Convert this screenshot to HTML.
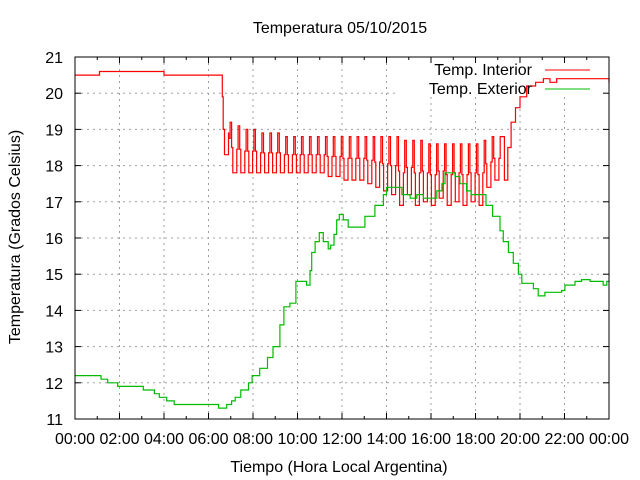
<!DOCTYPE html>
<html><head><meta charset="utf-8"><style>
html,body{margin:0;padding:0;background:#fff;}
svg{display:block;font-family:"Liberation Sans",sans-serif;}
</style></head><body>
<svg id="chart" width="640" height="480" viewBox="0 0 640 480" xmlns="http://www.w3.org/2000/svg">
<g id="grid"></g>
<rect x="396" y="58" width="212" height="39" fill="#fff"/>
<g id="series"></g>
<rect x="75" y="57" width="534" height="362" fill="none" stroke="#000" stroke-width="1"/>
<g id="ticks"></g>
<text x="340" y="33" text-anchor="middle" font-size="16">Temperatura 05/10/2015</text>
<text x="339" y="472" text-anchor="middle" font-size="16">Tiempo (Hora Local Argentina)</text>
<text x="0" y="0" transform="translate(20,237) rotate(-90)" text-anchor="middle" font-size="16">Temperatura (Grados Celsius)</text>
<g>
<text x="532" y="75" text-anchor="end" font-size="16">Temp. Interior</text>
<line x1="545" y1="70" x2="590" y2="70" stroke="#f00" stroke-width="1"/>
<text x="532" y="94" text-anchor="end" font-size="16">Temp. Exterior</text>
<line x1="545" y1="89" x2="590" y2="89" stroke="#0b0" stroke-width="1"/>
</g>
</svg>
<script>
const xTickLabels=["00:00","02:00","04:00","06:00","08:00","10:00","12:00","14:00","16:00","18:00","20:00","22:00","00:00"];
const xTickHours=[0,2,4,6,8,10,12,14,16,18,20,22,24];
const yTickValues=[11,12,13,14,15,16,17,18,19,20,21];
const intHours=[0,1.1,1.1,4.0,4.0,6.6,6.62,6.66,6.72,6.8,6.9];
const intVals=[20.5,20.5,20.6,20.6,20.5,20.5,19.9,19.0,18.3,18.3,18.9];
const peakTimes=[6.97,7.33,7.69,8.04,8.40,8.76,9.11,9.47,9.83,10.18,10.54,10.90,11.26,11.61,11.97,12.33,12.68,13.04,13.40,13.75,14.11,14.47,14.82,15.18,15.54,15.90,16.25,16.61,16.97,17.32,17.68,18.04,18.39,18.75,19.11];
const peakVals=[19.2,19.1,19.0,19.0,18.9,18.9,18.9,18.8,18.8,18.8,18.8,18.8,18.8,18.8,18.8,18.8,18.8,18.8,18.8,18.8,18.8,18.8,18.7,18.7,18.7,18.6,18.6,18.6,18.6,18.6,18.6,18.6,18.7,18.8,18.8];
const troughVals=[17.8,17.8,17.8,17.8,17.8,17.8,17.8,17.8,17.8,17.8,17.8,17.8,17.7,17.7,17.6,17.6,17.6,17.5,17.4,17.3,17.2,16.9,17.2,16.9,17.0,16.9,17.1,16.9,17.0,16.9,17.0,16.9,17.4,17.6];
const riseHours=[19.3,19.45,19.6,19.8,20.0,20.3,20.7,21.0,21.05,21.3,21.35,21.6,21.65,24];
const riseVals=[17.6,18.5,19.2,19.6,19.9,20.2,20.3,20.3,20.4,20.4,20.3,20.3,20.4,20.3];
const extHours=[0,1.17,1.47,1.92,3.07,3.57,3.79,4.12,4.46,6.45,6.82,7.04,7.2,7.45,7.8,7.96,8.3,8.65,8.9,9.21,9.39,9.66,9.93,10.41,10.56,10.64,10.79,10.98,11.16,11.38,11.49,11.64,11.76,11.88,12.06,12.28,12.81,13.03,13.33,13.48,13.71,13.86,14.0,14.46,14.69,15.06,15.36,15.66,16.26,16.49,16.63,17.08,17.3,17.6,17.8,18.24,18.47,18.77,19.1,19.25,19.48,19.7,19.93,20.08,20.6,20.82,21.12,21.87,22.02,22.47,22.77,23.15,23.74,23.9,24];
const extVals=[12.2,12.1,12.0,11.9,11.8,11.7,11.6,11.5,11.4,11.3,11.4,11.5,11.6,11.8,12.0,12.2,12.4,12.7,13.0,13.6,14.1,14.2,14.8,14.7,15.1,15.6,15.9,16.15,15.9,15.7,15.8,16.1,16.5,16.65,16.5,16.3,16.3,16.6,16.6,16.9,16.9,17.2,17.4,17.4,17.2,17.1,17.2,17.1,17.3,17.5,17.8,17.7,17.5,17.3,17.2,17.2,16.9,16.6,16.2,15.9,15.6,15.3,15.0,14.75,14.6,14.4,14.5,14.55,14.7,14.8,14.85,14.8,14.7,14.8,14.8];

const NS="http://www.w3.org/2000/svg";
const X=h=>75+h*534/24;
const Y=v=>419-(v-11)*36.2;
const grid=document.getElementById('grid'),ticks=document.getElementById('ticks'),series=document.getElementById('series'),svg=document.getElementById('chart');
function mk(tag,attrs,parent){const e=document.createElementNS(NS,tag);for(const k in attrs)e.setAttribute(k,attrs[k]);parent.appendChild(e);return e;}
xTickHours.forEach((h,i)=>{
  const x=X(h);
  if(i>0&&i<xTickHours.length-1){
    const y1=(h>=14)?97:57;
    const g=mk('line',{x1:x,y1:(x>396?97:57),x2:x,y2:419,stroke:'#a0a0a0','stroke-dasharray':'2,4'},grid);
    
    
  }
  const t1=mk('line',{x1:x,y1:419,x2:x,y2:413,stroke:'#000'},ticks);
  
  
  mk('line',{x1:x,y1:57,x2:x,y2:63,stroke:'#000'},ticks);
  if(h<24){const xm=X(h+1);mk('line',{x1:xm,y1:419,x2:xm,y2:416,stroke:'#000'},ticks);mk('line',{x1:xm,y1:57,x2:xm,y2:60,stroke:'#000'},ticks);}
  const lb=mk('text',{x:x,y:444,'text-anchor':'middle','font-size':'16'},svg);
  lb.textContent=xTickLabels[i];
  
  
});
yTickValues.forEach(v=>{
  const y=Y(v);
  if(v>11&&v<21){
    const x2=(v===20)?396:609;
    const g=mk('line',{x1:75,y1:y,x2:x2,y2:y,stroke:'#a0a0a0','stroke-dasharray':'2,4'},grid);
    
    
  }
  mk('line',{x1:75,y1:y,x2:81,y2:y,stroke:'#000'},ticks);
  mk('line',{x1:603,y1:y,x2:609,y2:y,stroke:'#000'},ticks);
  const lb=mk('text',{x:63,y:y+6,'text-anchor':'end','font-size':'16'},svg);
  lb.textContent=String(v);
  
  
});
function stepPts(arr){let out=[];arr.forEach((p,i)=>{if(i>0)out.push([p[0],arr[i-1][1]]);out.push(p);});return out;}
let pts=[];
intHours.forEach((h,i)=>pts.push([h,intVals[i]]));
peakTimes.forEach((t,i)=>{
  pts.push([t-0.06,(peakVals[i]+ (i>0?troughVals[i-1]:18.3))/2]);
  pts.push([t,peakVals[i]]);
  if(i<troughVals.length){
    pts.push([t+0.07,(peakVals[i]+troughVals[i])/2]);
    pts.push([t+0.12,troughVals[i]]);
  }
});
riseHours.forEach((h,i)=>pts.push([h,riseVals[i]]));
const ip=stepPts(pts);
const pi=mk('polyline',{points:ip.map(p=>X(p[0]).toFixed(1)+','+Y(p[1]).toFixed(1)).join(' '),fill:'none',stroke:'#f00','stroke-width':'1.2'},series);


const ep=stepPts(extHours.map((h,i)=>[h,extVals[i]]));
const pe=mk('polyline',{points:ep.map(p=>X(p[0]).toFixed(1)+','+Y(p[1]).toFixed(1)).join(' '),fill:'none',stroke:'#0b0','stroke-width':'1.2'},series);


</script>
</body></html>
